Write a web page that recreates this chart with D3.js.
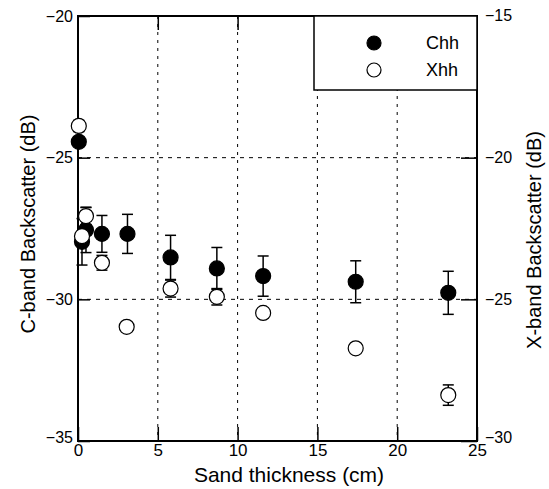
<!DOCTYPE html>
<html>
<head>
<meta charset="utf-8">
<script src="https://cdn.jsdelivr.net/npm/d3@7"></script>
<style>
  body { margin: 0; background: #fff; }
  svg text { font-family: "Liberation Sans", Arial, sans-serif; fill: #000; }
</style>
</head>
<body>
<div id="chart"></div>
<script>
// data
const chhThickness = [0.05, 0.25, 0.5, 1.5, 3.1, 5.8, 8.7, 11.6, 17.4, 23.2];
const chhValues = [-24.44, -27.97, -27.55, -27.69, -27.69, -28.52, -28.91, -29.18, -29.38, -29.77];
const chhErr = [0, 0.82, 0.8, 0.65, 0.69, 0.78, 0.74, 0.71, 0.74, 0.76];

const xhhThickness = [0.05, 0.25, 0.5, 1.5, 3.05, 5.8, 8.7, 11.6, 17.4, 23.2];
const xhhValues = [-18.88, -22.77, -22.06, -23.71, -25.97, -24.62, -24.91, -25.48, -26.73, -28.38];
const xhhErr = [0.2, 0, 0.3, 0.26, 0, 0.3, 0.29, 0, 0, 0.36];

const xTicks = [0, 5, 10, 15, 20, 25];
const leftTicks = [-35, -30, -25, -20];
const rightTicks = [-30, -25, -20, -15];
const legendNames = ["Chh", "Xhh"];

const width = 549, height = 489;
const plotL = 78, plotR = 477, plotT = 16, plotB = 441;

const svg = d3.select("#chart")
    .append("svg")
    .attr("width", width)
    .attr("height", height);

const x = d3.scaleLinear().domain([0, 25]).range([plotL, plotR]);
const yL = d3.scaleLinear().domain([-35, -20]).range([plotB, plotT]);
const yR = d3.scaleLinear().domain([-30, -15]).range([plotB, plotT]);

// dotted grid
svg.selectAll(".vgrid")
    .data([5, 10, 15, 20])
    .enter()
    .append("line")
    .attr("x1", d => x(d)).attr("x2", d => x(d))
    .attr("y1", plotT).attr("y2", plotB)
    .attr("stroke", "#000").attr("stroke-width", 1)
    .attr("stroke-dasharray", "3,5");

svg.selectAll(".hgrid")
    .data([-25, -30])
    .enter()
    .append("line")
    .attr("x1", plotL).attr("x2", plotR)
    .attr("y1", d => yL(d)).attr("y2", d => yL(d))
    .attr("stroke", "#000").attr("stroke-width", 1)
    .attr("stroke-dasharray", "4,5");

// axes, ticks pointing inward
const xAxis = svg.append("g")
    .attr("transform", `translate(0,${plotB})`)
    .call(d3.axisBottom(x).tickValues(xTicks).tickSize(-14).tickPadding(3).tickFormat(d3.format("d")));
svg.append("g")
    .attr("transform", `translate(0,${plotT})`)
    .call(d3.axisTop(x).tickValues([5, 10, 15, 20]).tickSize(-14).tickFormat(""));
const lAxis = svg.append("g")
    .attr("transform", `translate(${plotL},0)`)
    .call(d3.axisLeft(yL).tickValues(leftTicks).tickSize(-12).tickPadding(5).tickFormat(d3.format("d")));
const rAxis = svg.append("g")
    .attr("transform", `translate(${plotR},0)`)
    .call(d3.axisRight(yR).tickValues(rightTicks).tickSize(-16).tickPadding(8).tickFormat(d3.format("d")));

svg.selectAll(".domain").remove();
svg.selectAll(".tick line").attr("stroke", "#000").attr("stroke-width", 1.5);
xAxis.selectAll("text").style("font-size", "17px");
lAxis.selectAll("text").style("font-size", "16px");
rAxis.selectAll("text").style("font-size", "16px");
// end labels sit a little off their ticks, as in the picture
lAxis.selectAll(".tick").filter(d => d === -35).select("text").attr("dy", "0.1em");
rAxis.selectAll(".tick").filter(d => d === -30).select("text").attr("dy", "0.1em");
rAxis.selectAll(".tick").filter(d => d === -15).select("text").attr("dy", "0.3em");

// frame
svg.append("rect")
    .attr("x", plotL).attr("y", plotT)
    .attr("width", plotR - plotL).attr("height", plotB - plotT)
    .attr("fill", "none").attr("stroke", "#000").attr("stroke-width", 2);

// legend box
svg.append("rect")
    .attr("x", 314).attr("y", plotT)
    .attr("width", plotR - 314).attr("height", 74)
    .attr("fill", "#fff").attr("stroke", "#000").attr("stroke-width", 1.5);
svg.selectAll(".legsym")
    .data(legendNames)
    .enter()
    .append("circle")
    .attr("cx", 374)
    .attr("cy", (d, i) => 43 + i * 27)
    .attr("r", 7)
    .attr("fill", (d, i) => i === 0 ? "#000" : "#fff")
    .attr("stroke", "#000").attr("stroke-width", 1.2);
svg.selectAll(".legtxt")
    .data(legendNames)
    .enter()
    .append("text")
    .attr("x", 426)
    .attr("y", (d, i) => 43 + i * 27)
    .attr("dy", "0.35em")
    .style("font-size", "18px")
    .text(d => d);

// error bars then markers
function drawSeries(xs, ys, errs, yScale, filled) {
    const rows = xs.map((t, i) => ({ t: t, v: ys[i], e: errs[i] }));
    const withErr = rows.filter(d => d.e > 0);
    const g = svg.append("g");
    g.selectAll(".bar")
        .data(withErr)
        .enter()
        .append("line")
        .attr("x1", d => x(d.t)).attr("x2", d => x(d.t))
        .attr("y1", d => yScale(d.v - d.e)).attr("y2", d => yScale(d.v + d.e))
        .attr("stroke", "#000").attr("stroke-width", 1.5);
    [1, -1].forEach(s => {
        g.selectAll(".cap" + s)
            .data(withErr)
            .enter()
            .append("line")
            .attr("x1", d => x(d.t) - 5.5).attr("x2", d => x(d.t) + 5.5)
            .attr("y1", d => yScale(d.v + s * d.e)).attr("y2", d => yScale(d.v + s * d.e))
            .attr("stroke", "#000").attr("stroke-width", 1.5);
    });
    g.selectAll("circle")
        .data(rows)
        .enter()
        .append("circle")
        .attr("cx", d => x(d.t))
        .attr("cy", d => yScale(d.v))
        .attr("r", 7.5)
        .attr("fill", filled ? "#000" : "#fff")
        .attr("stroke", "#000").attr("stroke-width", 1.2);
}

drawSeries(chhThickness, chhValues, chhErr, yL, true);
drawSeries(xhhThickness, xhhValues, xhhErr, yR, false);

// axis titles
svg.append("text")
    .attr("x", 289).attr("y", 482)
    .attr("text-anchor", "middle")
    .style("font-size", "21px")
    .text("Sand thickness (cm)");
svg.append("text")
    .attr("transform", "translate(35,224) rotate(-90)")
    .attr("text-anchor", "middle")
    .style("font-size", "20px")
    .text("C-band Backscatter (dB)");
svg.append("text")
    .attr("transform", "translate(541,240) rotate(-90)")
    .attr("text-anchor", "middle")
    .style("font-size", "20px")
    .text("X-band Backscatter (dB)");
</script>
</body>
</html>
